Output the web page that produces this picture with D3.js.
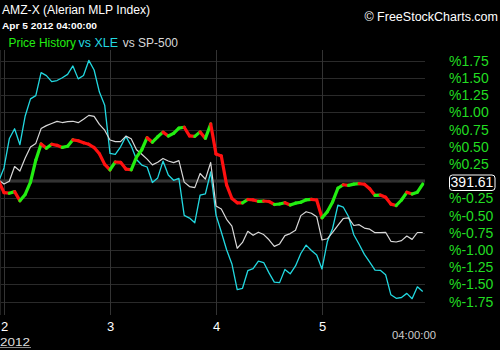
<!DOCTYPE html>
<html><head><meta charset="utf-8">
<script src="https://cdn.jsdelivr.net/npm/d3@7"></script>
<style>
html,body{margin:0;padding:0;background:#000;}
svg{display:block;}
</style></head>
<body>
<svg id="c" width="500" height="350"></svg>
<script>
// ---- data (percent change vs. start, one point per bar; 20 bars per day) ----
const priceValues = [0.00,-0.167,-0.174,-0.151,-0.285,-0.193,-0.012,0.306,0.541,0.478,
0.536,0.521,0.491,0.508,0.601,0.588,0.558,0.536,0.489,0.398,
0.244,0.163,0.279,0.274,0.176,0.166,0.349,0.457,0.632,0.566,
0.645,0.713,0.656,0.694,0.771,0.783,0.658,0.651,0.716,0.622,
0.831,0.395,0.367,-0.054,-0.251,-0.314,-0.315,-0.266,-0.272,-0.292,
-0.288,-0.295,-0.338,-0.331,-0.312,-0.346,-0.319,-0.306,-0.270,-0.264,
-0.273,-0.532,-0.443,-0.301,-0.102,-0.052,-0.061,-0.042,-0.036,-0.044,
-0.109,-0.206,-0.202,-0.232,-0.333,-0.353,-0.273,-0.161,-0.186,-0.160,-0.041];
const xleValues = [0.00,0.192,0.616,0.761,0.530,0.947,1.195,1.243,1.577,1.534,
1.446,1.462,1.502,1.552,1.674,1.486,1.535,1.754,1.615,1.294,
1.104,0.405,0.391,0.500,0.651,0.514,0.315,0.235,0.206,-0.019,
0.048,0.292,0.090,0.013,0.042,-0.497,-0.536,-0.603,-0.203,-0.183,
0.134,-0.491,-0.738,-0.995,-1.202,-1.573,-1.555,-1.300,-1.269,-1.162,
-1.181,-1.332,-1.465,-1.473,-1.282,-1.345,-1.231,-1.050,-0.928,-1.006,
-1.072,-1.275,-0.881,-0.687,-0.347,-0.375,-0.513,-0.777,-0.916,-1.062,
-1.175,-1.290,-1.294,-1.358,-1.650,-1.701,-1.689,-1.629,-1.706,-1.534,-1.602];
const spValues = [0.017,-0.041,0.000,0.213,0.148,0.338,0.497,0.549,0.764,0.807,
0.838,0.868,0.852,0.864,0.870,0.850,0.900,0.956,0.941,0.826,
0.741,0.598,0.574,0.574,0.655,0.617,0.457,0.392,0.321,0.237,
0.276,0.330,0.293,0.269,0.298,-0.013,-0.078,-0.093,0.112,0.030,
0.272,-0.360,-0.405,-0.553,-0.651,-0.974,-0.889,-0.728,-0.786,-0.741,
-0.775,-0.851,-0.947,-0.911,-0.791,-0.761,-0.713,-0.500,-0.443,-0.466,
-0.516,-0.854,-0.836,-0.742,-0.642,-0.542,-0.534,-0.643,-0.632,-0.681,
-0.697,-0.748,-0.746,-0.742,-0.873,-0.883,-0.863,-0.797,-0.845,-0.745,-0.745];
const dayLabels = ["2","3","4","5"];
const dayBars = [1,21,41,61];
const pctTicks = [1.75,1.5,1.25,1.0,0.75,0.5,0.25,0,-0.25,-0.5,-0.75,-1.0,-1.25,-1.5,-1.75];
const lastPrice = "391.61";
const titleText = "AMZ-X (Alerian MLP Index)";
const dateText = "Apr 5 2012 04:00:00";
const yearText = "2012";
const timeText = "04:00:00";
const legendNames = ["Price History","vs XLE","vs SP-500"];

// ---- layout ----
const svg = d3.select("#c");
const plotL = 0, plotR = 425;
const x = d3.scaleLinear().domain([1,61]).range([4,322]);
const y = d3.scaleLinear().domain([-1.75,1.75]).range([301.7,60.7]);
const FONT = "'Liberation Sans', Arial, sans-serif";
const C_PRICE_UP = "#22ee11", C_PRICE_DN = "#ff1010", C_XLE = "#22d8e0", C_SP = "#d8d8d8";

svg.append("rect").attr("width",500).attr("height",350).attr("fill","#000");

svg.append("defs").append("clipPath").attr("id","clip")
  .append("rect").attr("x",plotL).attr("y",40).attr("width",plotR-plotL).attr("height",275);

// horizontal grid
svg.append("g").selectAll("line").data(pctTicks.filter(d=>d!==0)).join("line")
  .attr("x1",plotL).attr("x2",plotR)
  .attr("y1",d=>Math.round(y(d))+0.5).attr("y2",d=>Math.round(y(d))+0.5)
  .attr("stroke","#2a2a2a").attr("stroke-width",1);
// zero band
svg.append("rect").attr("x",plotL).attr("width",plotR-plotL)
  .attr("y",y(0)-1.8).attr("height",3.2).attr("fill","#333");

// vertical grid
svg.append("g").selectAll("line").data(dayBars).join("line")
  .attr("x1",d=>Math.round(x(d))+0.5).attr("x2",d=>Math.round(x(d))+0.5)
  .attr("y1",50).attr("y2",315).attr("stroke","#333").attr("stroke-width",1);
svg.append("line").attr("x1",0.5).attr("x2",0.5).attr("y1",50).attr("y2",315)
  .attr("stroke","#222");

const g = svg.append("g").attr("clip-path","url(#clip)");
const line = d3.line().x((d,i)=>x(i)).y(d=>y(d));

g.append("path").datum(xleValues).attr("d",line)
  .attr("fill","none").attr("stroke",C_XLE).attr("stroke-width",1.3).attr("stroke-linejoin","round");
g.append("path").datum(spValues).attr("d",line)
  .attr("fill","none").attr("stroke",C_SP).attr("stroke-width",1.2).attr("stroke-linejoin","round");

// price segments colored by direction
const segs = d3.range(priceValues.length-1).map(i=>({i, a:priceValues[i], b:priceValues[i+1]}));
g.append("g").selectAll("line").data(segs).join("line")
  .attr("x1",d=>x(d.i)).attr("y1",d=>y(d.a))
  .attr("x2",d=>x(d.i+1)).attr("y2",d=>y(d.b))
  .attr("stroke",d=>d.b>=d.a?C_PRICE_UP:C_PRICE_DN)
  .attr("stroke-width",3.2).attr("stroke-linecap","round");

// right axis
const ax = d3.axisRight(y).tickValues(pctTicks.filter(d=>d!==0)).tickSize(0).tickPadding(0)
  .tickFormat(d=>"%"+d.toFixed(2));
const axg = svg.append("g").attr("transform","translate(449,0)").call(ax);
axg.select(".domain").remove();
axg.selectAll("text").attr("fill","#22dd22").attr("font-family",FONT).attr("font-size",14);

// last price box
const pb = svg.append("g");
pb.append("rect").attr("x",449.5).attr("y",y(0)-6.2).attr("width",45.5).attr("height",15.5)
  .attr("rx",3).attr("fill","#000").attr("stroke","#fff").attr("stroke-width",1);
pb.append("text").attr("x",472).attr("y",y(0)+6).attr("text-anchor","middle")
  .attr("fill","#fff").attr("font-family",FONT).attr("font-size",14).text(lastPrice);

// bottom axis labels
const bx = d3.axisBottom(x).tickValues(dayBars).tickSize(0).tickPadding(0)
  .tickFormat((d,i)=>dayLabels[i]);
const bxg = svg.append("g").attr("transform","translate(0,322)").call(bx);
bxg.select(".domain").remove();
bxg.selectAll("text").attr("fill","#fff").attr("font-family",FONT).attr("font-size",13);

svg.append("text").attr("x",0).attr("y",346).attr("fill","#ddd").attr("font-family",FONT)
  .attr("font-size",10).attr("textLength",30).attr("lengthAdjust","spacingAndGlyphs").text(yearText);
svg.append("line").attr("x1",0).attr("x2",31).attr("y1",347.5).attr("y2",347.5).attr("stroke","#aaa").attr("stroke-width",0.8);
svg.append("text").attr("x",392).attr("y",338.5).attr("fill","#ccc").attr("font-family",FONT)
  .attr("font-size",10.5).attr("textLength",44).attr("lengthAdjust","spacingAndGlyphs").text(timeText);

// header
svg.append("text").attr("x",2).attr("y",13.5).attr("fill","#fff").attr("font-family",FONT)
  .attr("font-size",12.5).attr("textLength",148).attr("lengthAdjust","spacingAndGlyphs").text(titleText);
svg.append("text").attr("x",2).attr("y",28.5).attr("fill","#fff").attr("font-family",FONT)
  .attr("font-size",9.5).attr("font-weight","bold").attr("textLength",95).attr("lengthAdjust","spacingAndGlyphs").text(dateText);
const legendX = [8.5, 78.5, 122.7], legendW = [67.5, 39.5, 55.3];
const legendC = [C_PRICE_UP, C_XLE, C_SP];
svg.append("g").selectAll("text").data(legendNames).join("text")
  .attr("x",(d,i)=>legendX[i]).attr("y",46.5).attr("fill",(d,i)=>legendC[i])
  .attr("font-family",FONT).attr("font-size",12)
  .attr("textLength",(d,i)=>legendW[i]).attr("lengthAdjust","spacingAndGlyphs").text(d=>d);
svg.append("text").attr("x",498).attr("y",20.5).attr("text-anchor","end").attr("fill","#fff")
  .attr("font-family",FONT).attr("font-size",12.5).text("\u00A9 FreeStockCharts.com");
</script>
</body></html>
